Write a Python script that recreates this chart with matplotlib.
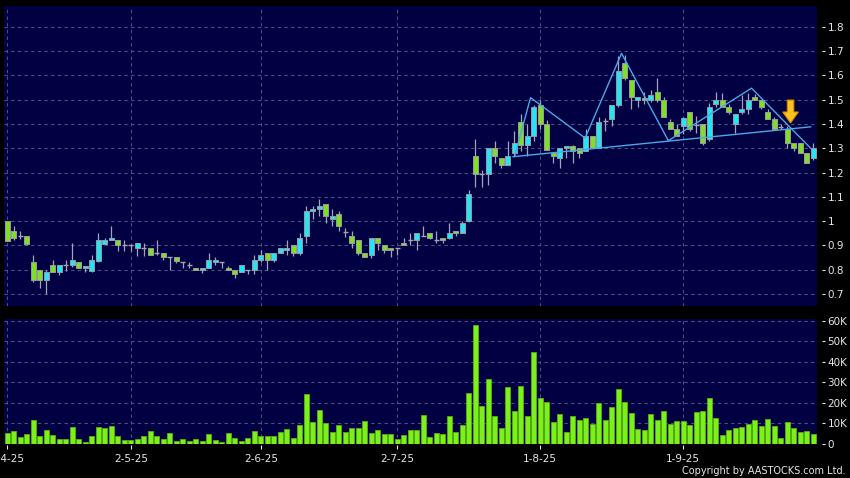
import matplotlib
matplotlib.use("Agg")
import matplotlib.pyplot as plt
from matplotlib.patches import FancyArrow
from matplotlib.ticker import FixedLocator, FuncFormatter
import numpy as np

# ---------------- data ----------------
opens = [1.000, 0.959, 0.940, 0.938, 0.833, 0.798, 0.760, 0.819, 0.789, 0.819,
         0.819, 0.831, 0.809, 0.797, 0.838, 0.908, 0.922, 0.922, 0.903, 0.903,
         0.890, 0.889, 0.889, 0.868, 0.868, 0.852, 0.852, 0.833, 0.820, 0.809,
         0.798, 0.809, 0.833, 0.831, 0.809, 0.798, 0.790, 0.798, 0.798, 0.840,
         0.868, 0.840, 0.870, 0.882, 0.902, 0.870, 0.938, 1.042, 1.051, 1.071,
         1.009, 1.030, 0.955, 0.938, 0.922, 0.870, 0.861, 0.931, 0.902, 0.891,
         0.891, 0.912, 0.922, 0.922, 0.940, 0.951, 0.922, 0.931, 0.931, 0.958,
         0.951, 1.000, 1.268, 1.192, 1.192, 1.300, 1.258, 1.233, 1.281, 1.408,
         1.312, 1.350, 1.479, 1.401, 1.281, 1.260, 1.301, 1.308, 1.301, 1.290,
         1.349, 1.301, 1.410, 1.420, 1.478, 1.651, 1.582, 1.500, 1.505, 1.500,
         1.533, 1.497, 1.408, 1.380, 1.391, 1.450, 1.394, 1.401, 1.339, 1.481,
         1.499, 1.471, 1.401, 1.450, 1.463, 1.512, 1.499, 1.450, 1.422, 1.387,
         1.380, 1.323, 1.323, 1.281, 1.260]
highs = [1.000, 0.981, 0.959, 0.938, 0.861, 0.798, 0.798, 0.841, 0.819, 0.841,
         0.912, 0.831, 0.817, 0.861, 0.952, 0.930, 0.981, 0.922, 0.923, 0.903,
         0.911, 0.911, 0.889, 0.923, 0.868, 0.852, 0.852, 0.833, 0.833, 0.809,
         0.809, 0.870, 0.852, 0.831, 0.817, 0.798, 0.819, 0.798, 0.861, 0.882,
         0.868, 0.869, 0.889, 0.923, 0.902, 0.952, 1.064, 1.064, 1.092, 1.071,
         1.051, 1.042, 0.972, 0.958, 0.922, 0.870, 0.931, 0.931, 0.902, 0.891,
         0.891, 0.931, 0.951, 0.951, 0.980, 0.951, 0.960, 0.931, 0.992, 0.958,
         1.000, 1.130, 1.339, 1.212, 1.300, 1.331, 1.258, 1.330, 1.371, 1.440,
         1.400, 1.478, 1.498, 1.418, 1.281, 1.301, 1.311, 1.315, 1.301, 1.379,
         1.349, 1.430, 1.425, 1.478, 1.681, 1.685, 1.582, 1.511, 1.530, 1.541,
         1.589, 1.510, 1.420, 1.400, 1.430, 1.450, 1.432, 1.401, 1.485, 1.532,
         1.529, 1.480, 1.442, 1.520, 1.529, 1.525, 1.499, 1.460, 1.430, 1.401,
         1.390, 1.323, 1.323, 1.281, 1.322]
lows = [0.920, 0.923, 0.926, 0.903, 0.748, 0.727, 0.700, 0.789, 0.779, 0.797,
        0.811, 0.809, 0.790, 0.790, 0.830, 0.908, 0.922, 0.879, 0.879, 0.879,
        0.857, 0.857, 0.859, 0.860, 0.840, 0.798, 0.828, 0.809, 0.808, 0.798,
        0.788, 0.809, 0.818, 0.809, 0.798, 0.768, 0.790, 0.782, 0.782, 0.831,
        0.798, 0.830, 0.870, 0.860, 0.855, 0.862, 0.911, 1.009, 1.020, 0.992,
        0.979, 0.958, 0.935, 0.890, 0.860, 0.853, 0.850, 0.882, 0.870, 0.852,
        0.861, 0.902, 0.901, 0.880, 0.940, 0.925, 0.910, 0.910, 0.925, 0.937,
        0.951, 0.995, 1.141, 1.141, 1.149, 1.240, 1.219, 1.233, 1.270, 1.290,
        1.270, 1.330, 1.378, 1.292, 1.240, 1.219, 1.260, 1.240, 1.260, 1.290,
        1.301, 1.301, 1.370, 1.390, 1.470, 1.580, 1.460, 1.470, 1.480, 1.490,
        1.490, 1.429, 1.379, 1.350, 1.360, 1.370, 1.364, 1.312, 1.330, 1.470,
        1.471, 1.440, 1.364, 1.440, 1.440, 1.499, 1.460, 1.422, 1.380, 1.378,
        1.302, 1.290, 1.281, 1.240, 1.250]
closes = [0.920, 0.929, 0.940, 0.908, 0.760, 0.760, 0.792, 0.789, 0.819, 0.819,
          0.840, 0.809, 0.817, 0.840, 0.922, 0.922, 0.930, 0.900, 0.903, 0.903,
          0.911, 0.889, 0.859, 0.868, 0.852, 0.852, 0.838, 0.833, 0.820, 0.798,
          0.809, 0.840, 0.841, 0.831, 0.798, 0.782, 0.819, 0.798, 0.840, 0.860,
          0.840, 0.869, 0.889, 0.888, 0.870, 0.931, 1.042, 1.051, 1.064, 1.020,
          1.020, 0.979, 0.955, 0.911, 0.870, 0.853, 0.931, 0.911, 0.882, 0.882,
          0.891, 0.902, 0.922, 0.951, 0.940, 0.931, 0.922, 0.922, 0.951, 0.951,
          0.991, 1.112, 1.192, 1.192, 1.300, 1.270, 1.233, 1.268, 1.323, 1.312,
          1.350, 1.470, 1.401, 1.292, 1.267, 1.301, 1.311, 1.290, 1.281, 1.349,
          1.301, 1.407, 1.410, 1.478, 1.619, 1.589, 1.511, 1.511, 1.497, 1.519,
          1.497, 1.429, 1.379, 1.350, 1.423, 1.380, 1.394, 1.323, 1.471, 1.499,
          1.471, 1.450, 1.442, 1.463, 1.499, 1.499, 1.471, 1.422, 1.380, 1.387,
          1.323, 1.302, 1.281, 1.240, 1.300]
volumes_k = [4.9, 6.2, 3.1, 4.6, 11.4, 3.9, 6.5, 4.2, 2.3, 2.3,
             8.2, 2.3, 0.5, 3.6, 8.0, 7.8, 8.5, 3.9, 1.8, 1.5,
             2.4, 3.9, 5.9, 3.8, 2.3, 5.2, 1.1, 2.1, 1.0, 2.4,
             1.0, 4.4, 1.8, 0.5, 4.9, 2.6, 1.1, 2.8, 6.0, 3.6,
             3.9, 3.9, 5.4, 7.0, 2.8, 9.1, 24.3, 10.4, 16.3, 10.0,
             5.5, 9.0, 5.7, 7.5, 7.7, 10.9, 4.9, 6.5, 4.7, 4.7,
             2.4, 4.1, 6.7, 6.7, 14.0, 3.1, 4.9, 4.6, 13.2, 5.7,
             8.8, 24.8, 57.7, 18.3, 31.3, 13.4, 7.8, 27.4, 15.8, 28.1,
             13.2, 44.9, 22.0, 20.2, 10.4, 14.5, 5.7, 13.2, 11.4, 12.4,
             9.6, 19.9, 11.3, 17.8, 26.6, 20.4, 15.0, 7.0, 6.5, 14.4,
             11.7, 15.7, 9.3, 11.1, 10.8, 9.0, 15.3, 15.7, 22.0, 12.6,
             4.2, 6.4, 7.8, 8.3, 9.5, 11.7, 8.5, 12.1, 8.5, 2.9,
             10.3, 7.5, 5.7, 5.9, 4.7]
date_tick_index = [0, 19, 39, 60, 82, 104]
date_tick_labels = ["1-4-25", "2-5-25", "2-6-25", "2-7-25", "1-8-25", "1-9-25"]
price_ticks = [0.7, 0.8, 0.9, 1.0, 1.1, 1.2, 1.3, 1.4, 1.5, 1.6, 1.7, 1.8]
volume_ticks_k = [0, 10, 20, 30, 40, 50, 60]
# head-and-shoulders annotation (candle index, price)
zigzag_x = [78.1, 80.5, 88.9, 94.5, 101.7, 114.5, 123.6]
zigzag_y = [1.272, 1.508, 1.342, 1.690, 1.331, 1.547, 1.300]
neckline_x = [77.8, 123.6]
neckline_y = [1.265, 1.388]
arrow_x = 120.5
arrow_top, arrow_tip = 1.498, 1.404

# ---------------- style ----------------
BG = "#000000"
PANEL = "#000042"
GRID = "#4f4f86"
UP = "#22e6f6"
DOWN = "#7ee022"
EDGE = "#9a9aa4"
WICK = "#a4a4b4"
VOL = "#7cf01a"
VOL_EDGE = "#58b010"
TXT = "#e6e6e6"

fig = plt.figure(figsize=(8.5, 4.78), dpi=100, facecolor=BG)
W, H = 850.0, 478.0
ax = fig.add_axes([4 / W, 1 - 306 / H, 813 / W, 300 / H], facecolor=PANEL)
axv = fig.add_axes([4 / W, 1 - 443.5 / H, 813 / W, 124.2 / H], facecolor=PANEL)

n = len(opens)
x = np.arange(n)
o = np.array(opens); c = np.array(closes); hi = np.array(highs); lo = np.array(lows)
xlim = (-0.51, 124.57)

for a in (ax, axv):
    a.set_xlim(*xlim)
    for s in a.spines.values():
        s.set_edgecolor("none")
    a.xaxis.set_major_locator(FixedLocator(date_tick_index))
    a.grid(True, axis="both", color=GRID, linestyle=(0, (3, 3)), linewidth=0.8)
    a.set_axisbelow(True)
    a.yaxis.tick_right()
    a.spines["right"].set_position(("outward", 3.6))
    a.tick_params(axis="y", which="major", direction="out", length=2.5, width=0.8,
                  color=TXT, labelcolor=TXT, labelsize=7.5, pad=1.5)

# price panel
ax.set_ylim(0.651, 1.885)
ax.yaxis.set_major_locator(FixedLocator(price_ticks))
ax.yaxis.set_major_formatter(FuncFormatter(lambda v, p: f"{v:g}"))
ax.tick_params(axis="x", bottom=False, labelbottom=False)

ax.vlines(x, lo, hi, color=WICK, linewidth=0.9, zorder=2)
bw = 0.78
up = c > o
dn = c < o
eq = c == o
ax.bar(x[up], (c - o)[up], bottom=o[up], width=bw, color=UP, edgecolor=EDGE,
       linewidth=0.7, zorder=3)
ax.bar(x[dn], (o - c)[dn], bottom=c[dn], width=bw, color=DOWN, edgecolor=EDGE,
       linewidth=0.7, zorder=3)
ax.hlines(o[eq], x[eq] - bw / 2, x[eq] + bw / 2, color=WICK, linewidth=1.0, zorder=3)

ax.plot(zigzag_x, zigzag_y, color="#4aa8e6", linewidth=1.0, zorder=4)
ax.plot(neckline_x, neckline_y, color="#4aa8e6", linewidth=1.0, zorder=4)
ax.add_patch(FancyArrow(arrow_x, arrow_top, 0, arrow_tip - arrow_top, width=1.0,
                        head_width=2.4, head_length=0.045, length_includes_head=True,
                        facecolor="#f8c41e", edgecolor="#e08800", linewidth=0.8,
                        zorder=5))

# volume panel
axv.set_ylim(0, 60.7)
axv.yaxis.set_major_locator(FixedLocator(volume_ticks_k))
axv.yaxis.set_major_formatter(FuncFormatter(lambda v, p: "0" if v == 0 else f"{v:g}K"))
axv.bar(x, volumes_k, width=0.8, color=VOL, edgecolor=VOL_EDGE, linewidth=0.6, zorder=3)
axv.set_xticks(date_tick_index)
axv.set_xticklabels(date_tick_labels)
axv.spines["bottom"].set_position(("outward", 1.2))
axv.tick_params(axis="x", direction="out", length=3, width=0.8, color=TXT,
                labelcolor=TXT, labelsize=7.5, pad=3)

fig.text(846 / W, 1 - 471.5 / H, "Copyright by AASTOCKS.com Ltd.", color=TXT,
         fontsize=7, ha="right", va="center")

fig.savefig("out.png", dpi=100, facecolor=BG)
